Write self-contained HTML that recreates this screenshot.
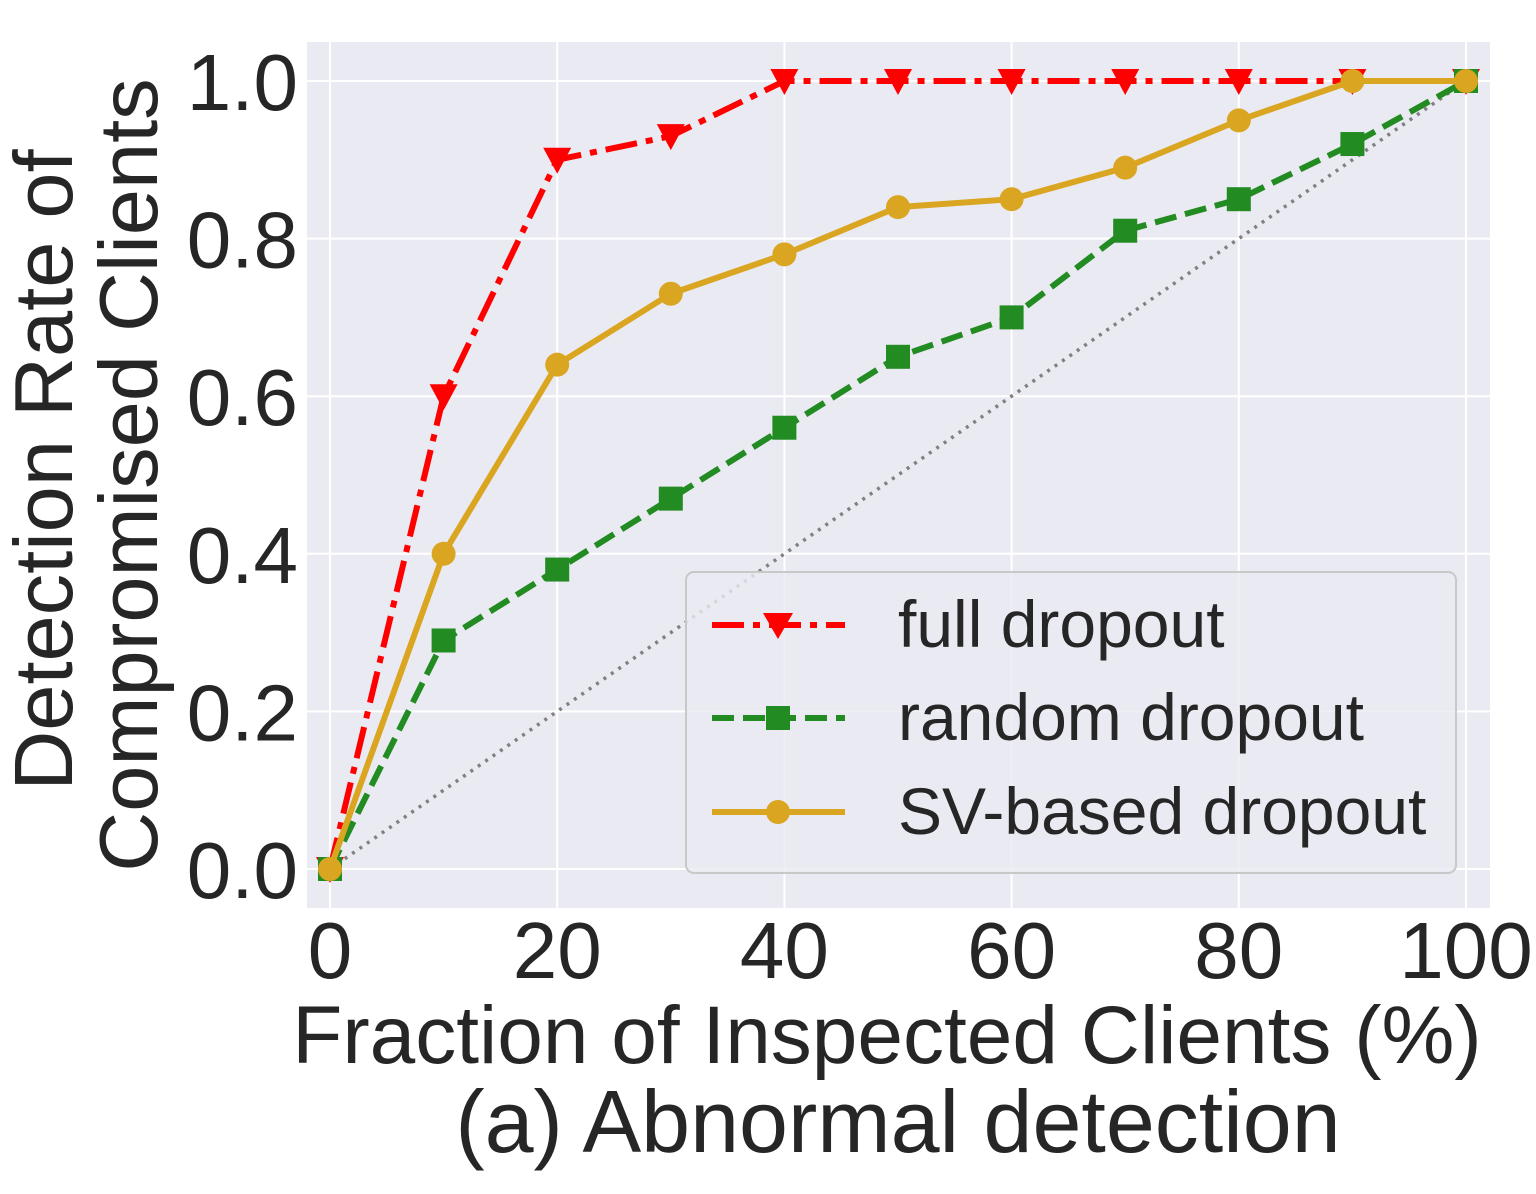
<!DOCTYPE html>
<html><head><meta charset="utf-8"><style>
body{margin:0;background:#fff;}
svg{display:block;font-family:"Liberation Sans",Arial,sans-serif;}
</style></head><body>
<svg id="chart" width="1536" height="1194" viewBox="0 0 1536 1194" xmlns="http://www.w3.org/2000/svg">
<rect x="307" y="42" width="1183" height="866" fill="#eaeaf2"/>
<g id="grid"></g>
<g id="series"></g>
<g id="ticks" font-size="80" fill="#262626"></g>
<text x="887" y="1063" font-size="82" text-anchor="middle" fill="#262626">Fraction of Inspected Clients (%)</text>
<text x="898" y="1152" font-size="88" text-anchor="middle" fill="#262626">(a) Abnormal detection</text>
<text transform="translate(72,470) rotate(-90)" font-size="83" text-anchor="middle" fill="#262626">Detection Rate of</text>
<text transform="translate(157,475) rotate(-90)" font-size="83" text-anchor="middle" fill="#262626">Compromised Clients</text>
<g>
<rect x="686" y="572" width="770" height="301" rx="8" fill="#eaeaf2" fill-opacity="0.8" stroke="#c8c8c8" stroke-width="2"/>
<line x1="712" y1="625" x2="845" y2="625" stroke="#ff0000" stroke-width="6" stroke-dasharray="32,9,7,9"/>
<path d="M763,613 L793,613 L778,639 Z" fill="#ff0000"/>
<text x="898" y="647" font-size="66" fill="#262626">full dropout</text>
<line x1="712" y1="718" x2="845" y2="718" stroke="#228b22" stroke-width="6" stroke-dasharray="22,9"/>
<rect x="766" y="706" width="24" height="24" fill="#228b22"/>
<text x="898" y="740" font-size="66" fill="#262626">random dropout</text>
<line x1="712" y1="812" x2="845" y2="812" stroke="#daa520" stroke-width="6"/>
<circle cx="778" cy="812" r="12" fill="#daa520"/>
<text x="898" y="834" font-size="66" fill="#262626">SV-based dropout</text>
</g>
</svg>
<script>
const xs=[0,10,20,30,40,50,60,70,80,90,100];
const fullDropout=[0,0.6,0.9,0.93,1,1,1,1,1,1,1];
const randomDropout=[0,0.29,0.38,0.47,0.56,0.65,0.70,0.81,0.85,0.92,1.0];
const svDropout=[0,0.40,0.64,0.73,0.78,0.84,0.85,0.89,0.95,1.0,1.0];
const xTicks=[0,20,40,60,80,100];
const yTicks=[0,0.2,0.4,0.6,0.8,1.0];
const X=v=>330+v*11.36, Y=v=>869-v*788;
const NS="http://www.w3.org/2000/svg";
function mk(t,a,p){const e=document.createElementNS(NS,t);for(const k in a)e.setAttribute(k,a[k]);p.appendChild(e);return e;}
const grid=document.getElementById('grid'),ticks=document.getElementById('ticks'),ser=document.getElementById('series');
xTicks.forEach(v=>{const l=mk('line',{x1:X(v),x2:X(v),y1:42,y2:908,stroke:'#fff','stroke-width':2},grid);

const t=mk('text',{x:X(v),y:978,'text-anchor':'middle'},ticks);t.textContent=v;
});
yTicks.forEach(v=>{const l=mk('line',{x1:307,x2:1490,y1:Y(v),y2:Y(v),stroke:'#fff','stroke-width':2},grid);

const t=mk('text',{x:298,y:Y(v)+29,'text-anchor':'end'},ticks);t.textContent=v.toFixed(1);
});
const diag=mk('line',{x1:X(0),y1:Y(0),x2:X(100),y2:Y(1),stroke:'#808080','stroke-width':3.5,'stroke-dasharray':'3,6'},ser);

function series(vals,color,dash,marker,name){
 const g=mk('g',{},ser);
 mk('polyline',{points:vals.map((v,i)=>X(xs[i])+','+Y(v)).join(' '),fill:'none',stroke:color,'stroke-width':6,'stroke-dasharray':dash},g);
 vals.forEach((v,i)=>{const cx=X(xs[i]),cy=Y(v);let m;
  if(marker==='tri')m=mk('path',{d:`M${cx-14},${cy-12} L${cx+14},${cy-12} L${cx},${cy+14} Z`,fill:color},g);
  else if(marker==='sq')m=mk('rect',{x:cx-12,y:cy-12,width:24,height:24,fill:color},g);
  else m=mk('circle',{cx:cx,cy:cy,r:12,fill:color},g);
  });
}
series(fullDropout,'#ff0000','32,9,7,9','tri','full-dropout-series');
series(randomDropout,'#228b22','22,9','sq','random-dropout-series');
series(svDropout,'#daa520','none','circ','sv-dropout-series');
</script>
</body></html>
